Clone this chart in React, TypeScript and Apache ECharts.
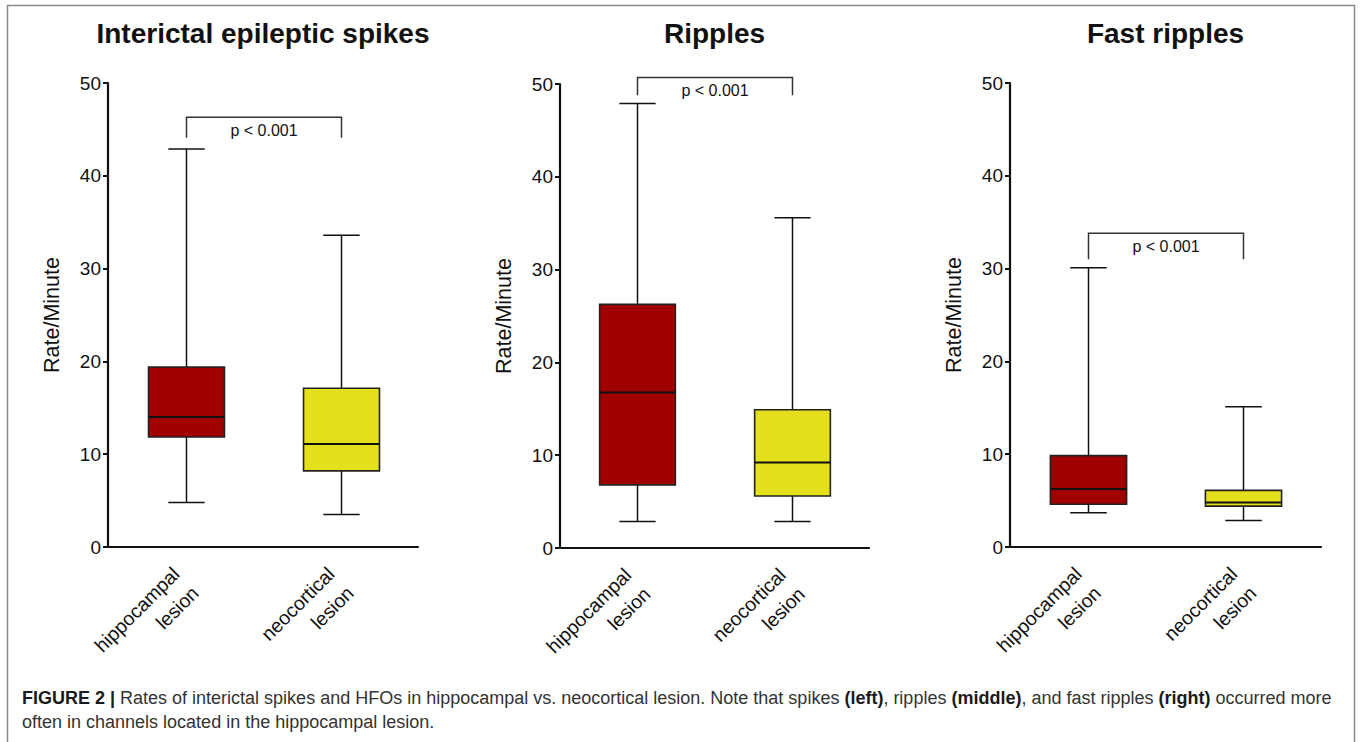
import React, { useEffect, useRef } from "react";
import * as echarts from "echarts";

const categories = ["hippocampal\nlesion", "neocortical\nlesion"];
const panelTitles = ["Interictal epileptic spikes", "Ripples", "Fast ripples"];
// [min, Q1, median, Q3, max] per category
const spikesStats = [
  [4.8, 11.85, 14.0, 19.4, 42.9],
  [3.5, 8.2, 11.1, 17.1, 33.6],
];
const ripplesStats = [
  [2.85, 6.8, 16.75, 26.25, 47.9],
  [2.85, 5.6, 9.2, 14.9, 35.6],
];
const fastRipplesStats = [
  [3.7, 4.6, 6.25, 9.85, 30.1],
  [2.85, 4.4, 4.8, 6.1, 15.1],
];
// [bracket level, leg end level]
const pBrackets = [
  [46.3, 44.1],
  [50.7, 48.8],
  [33.8, 31.0],
];
const pLabel = "p < 0.001";
const yMin = 0;
const yMax = 50;
const yInterval = 10;
const yAxisName = "Rate/Minute";
const boxColors = ["#a00000", "#e5e01c"];
const captionText =
  "{b|FIGURE 2 |} Rates of interictal spikes and HFOs in hippocampal vs. neocortical lesion. Note that spikes {b|(left)}, ripples {b|(middle)}, and fast ripples {b|(right)} occurred more\noften in channels located in the hippocampal lesion.";

const FONT = "'Liberation Sans', Arial, Helvetica, sans-serif";

const grids = [
  { left: 108, top: 83, width: 310, height: 464 },
  { left: 560, top: 84, width: 309, height: 464 },
  { left: 1010, top: 83, width: 311, height: 464 },
];

export default function App() {
  const ref = useRef<HTMLDivElement>(null);
  useEffect(() => {
    document.body.style.margin = "0";
    const chart = echarts.init(ref.current!, null, { renderer: "svg" });
    const allStats = [spikesStats, ripplesStats, fastRipplesStats];

    const boxRender = (params: any, api: any) => {
      const cat = api.value(0);
      const bandW = api.size([1, 0])[0];
      const boxW = bandW * 0.49;
      const capW = bandW * 0.235;
      const pMin = api.coord([cat, api.value(1)]);
      const pQ1 = api.coord([cat, api.value(2)]);
      const pMed = api.coord([cat, api.value(3)]);
      const pQ3 = api.coord([cat, api.value(4)]);
      const pMax = api.coord([cat, api.value(5)]);
      const cx = Math.round(pMin[0]) + 0.5;
      const lineStyle = { stroke: "#111", lineWidth: 1.5, fill: null };
      return {
        type: "group",
        children: [
          { type: "line", shape: { x1: cx, y1: pQ3[1], x2: cx, y2: pMax[1] }, style: lineStyle },
          { type: "line", shape: { x1: cx - capW / 2, y1: pMax[1], x2: cx + capW / 2, y2: pMax[1] }, style: lineStyle },
          { type: "line", shape: { x1: cx, y1: pQ1[1], x2: cx, y2: pMin[1] }, style: lineStyle },
          { type: "line", shape: { x1: cx - capW / 2, y1: pMin[1], x2: cx + capW / 2, y2: pMin[1] }, style: lineStyle },
          {
            type: "rect",
            shape: { x: cx - boxW / 2, y: pQ3[1], width: boxW, height: pQ1[1] - pQ3[1] },
            style: { fill: boxColors[cat], stroke: "#222", lineWidth: 1.6 },
          },
          { type: "line", shape: { x1: cx - boxW / 2, y1: pMed[1], x2: cx + boxW / 2, y2: pMed[1] }, style: { stroke: "#111", lineWidth: 2 } },
        ],
      };
    };

    const bracketRender = (params: any, api: any) => {
      const l = api.coord([api.value(0), api.value(2)]);
      const r = api.coord([api.value(1), api.value(2)]);
      const leg = api.coord([api.value(0), api.value(3)]);
      const lx = Math.round(l[0]) + 0.5;
      const rx = Math.round(r[0]) + 0.5;
      return {
        type: "group",
        children: [
          {
            type: "polyline",
            shape: { points: [[lx, leg[1]], [lx, l[1]], [rx, r[1]], [rx, leg[1]]] },
            style: { stroke: "#333", lineWidth: 1.5, fill: null },
          },
          {
            type: "text",
            x: (lx + rx) / 2,
            y: l[1] + 13,
            style: { text: pLabel, font: `16px ${FONT}`, fill: "#111", textAlign: "center", textVerticalAlign: "middle" },
          },
        ],
      };
    };

    const option: any = {
      animation: false,
      backgroundColor: "#fff",
      grid: grids.map((g) => ({ ...g, containLabel: false })),
      xAxis: grids.map((g, i) => ({
        type: "category",
        gridIndex: i,
        data: categories,
        axisLine: { lineStyle: { color: "#111", width: 2.2 } },
        axisTick: { alignWithLabel: true, length: 5, lineStyle: { color: "#111", width: 2 } },
        axisLabel: {
          interval: 0,
          rotate: 45,
          fontSize: 19.5,
          lineHeight: 27,
          color: "#111",
          fontFamily: FONT,
          margin: 33,
          align: "right",
        },
        splitLine: { show: false },
      })),
      yAxis: grids.map((g, i) => ({
        type: "value",
        gridIndex: i,
        min: yMin,
        max: yMax,
        interval: yInterval,
        name: yAxisName,
        nameLocation: "middle",
        nameRotate: 90,
        nameGap: 45,
        nameTextStyle: { fontSize: 21.5, color: "#111", fontFamily: FONT },
        axisLine: { show: true, lineStyle: { color: "#111", width: 2.2 } },
        axisTick: { show: true, length: 5, lineStyle: { color: "#111", width: 2 } },
        axisLabel: { fontSize: 19, color: "#111", fontFamily: FONT, margin: 7 },
        splitLine: { show: false },
      })),
      series: [
        ...allStats.map((stats, i) => ({
          type: "custom",
          xAxisIndex: i,
          yAxisIndex: i,
          clip: false,
          renderItem: boxRender,
          encode: { x: 0, y: [1, 2, 3, 4, 5] },
          data: stats.map((s, c) => [c, ...s]),
        })),
        ...pBrackets.map((b, i) => ({
          type: "custom",
          xAxisIndex: i,
          yAxisIndex: i,
          clip: false,
          renderItem: bracketRender,
          encode: { x: [0, 1], y: [2, 3] },
          data: [[0, 1, b[0], b[1]]],
        })),
      ],
      graphic: [
        {
          type: "rect",
          shape: { x: 7.5, y: 5.5, width: 1347, height: 800 },
          style: { fill: null, stroke: "#8a8a8a", lineWidth: 1.5 },
          silent: true,
        },
        ...panelTitles.map((t, i) => ({
          type: "text",
          x: grids[i].left + grids[i].width / 2,
          y: 33,
          style: {
            text: t,
            font: `bold 28px ${FONT}`,
            fill: "#111",
            textAlign: "center",
            textVerticalAlign: "middle",
          },
        })),
        {
          type: "text",
          x: 22,
          y: 686,
          style: {
            text: captionText,
            font: `18px ${FONT}`,
            fill: "#333",
            lineHeight: 24,
            rich: {
              b: { fontWeight: "bold", fontSize: 18, fontFamily: FONT, fill: "#1a1a1a", lineHeight: 24 },
            },
          },
        },
      ],
    };
    chart.setOption(option);
    return () => chart.dispose();
  }, []);
  return <div ref={ref} style={{ width: 1360, height: 742 }} />;
}
